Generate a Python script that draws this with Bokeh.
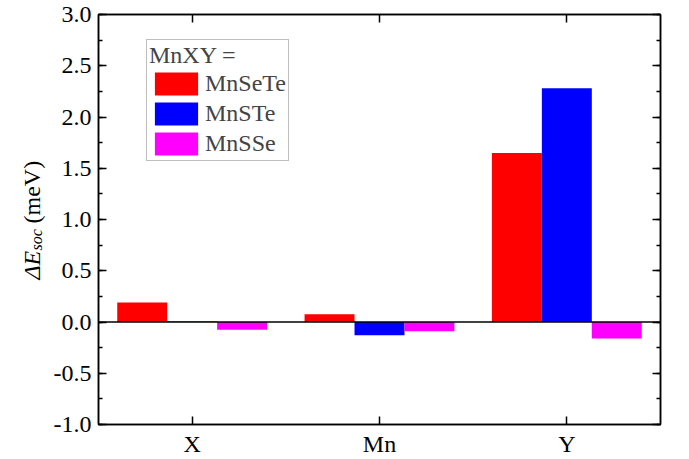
from bokeh.plotting import figure
from bokeh.layouts import row
from bokeh.models import (FactorRange, Range1d, Span, Legend, LegendItem, Label,
                          SingleIntervalTicker, NumeralTickFormatter, LinearAxis,
                          CategoricalAxis, CustomJSTickFormatter, ColumnDataSource)
from bokeh.transform import dodge
from bokeh.embed import file_html
from bokeh.resources import INLINE

# ---- data ----
sites = ["X", "Mn", "Y"]
mnsete = [0.19, 0.075, 1.65]
mnste = [0.005, -0.13, 2.28]
mnsse = [-0.075, -0.09, -0.16]
series_names = ["MnSeTe", "MnSTe", "MnSSe"]
series_colors = ["#FF0000", "#0000FF", "#FF00FF"]
y_ticks_interval = 0.5

FONT = "Liberation Serif"

source = ColumnDataSource(data=dict(site=sites, MnSeTe=mnsete, MnSTe=mnste, MnSSe=mnsse))

LBL_W = 50
fig = figure(width=689 - LBL_W, height=459, x_range=FactorRange(*sites), y_range=Range1d(-1.0, 3.0),
             output_backend="svg", toolbar_location=None,
             min_border_left=98 - LBL_W, min_border_right=29, min_border_top=14, min_border_bottom=33)
fig.xgrid.visible = False
fig.ygrid.visible = False
fig.outline_line_color = "black"
fig.outline_line_width = 1.5
fig.background_fill_color = "white"
fig.border_fill_color = "white"

bw = 0.8 / 3
renderers = []
offsets = [-bw, 0.0, bw]
for name, col, off in zip(series_names, series_colors, offsets):
    r = fig.vbar(x=dodge("site", off, range=fig.x_range), top=name, bottom=0, width=bw,
                 source=source, fill_color=col, line_color=None)
    renderers.append(r)

fig.add_layout(Span(location=0, dimension="width", line_color="black", line_width=1.5))

def style_axis(ax):
    ax.axis_line_width = 1.5
    ax.axis_line_color = "black"
    ax.major_tick_line_color = "black"
    ax.minor_tick_line_color = "black"
    ax.major_tick_line_width = 1.5
    ax.minor_tick_line_width = 1.5
    ax.major_tick_in = 8
    ax.major_tick_out = 0
    ax.minor_tick_in = 4
    ax.minor_tick_out = 0
    ax.major_label_text_font = FONT
    ax.major_label_text_color = "black"

yax = fig.yaxis[0]
yax.ticker = SingleIntervalTicker(interval=y_ticks_interval, num_minor_ticks=2)
yax.formatter = NumeralTickFormatter(format="0.0")
style_axis(yax)
yax.major_label_text_font_size = "24px"
yax.major_label_standoff = 7

xax = fig.xaxis[0]
style_axis(xax)
xax.major_label_text_font_size = "24px"
xax.major_label_standoff = 6

rax = LinearAxis(ticker=SingleIntervalTicker(interval=y_ticks_interval, num_minor_ticks=2),
                 formatter=CustomJSTickFormatter(code="return ''"))
style_axis(rax)
rax.major_label_standoff = 0
fig.add_layout(rax, "right")
tax = CategoricalAxis(formatter=CustomJSTickFormatter(code="return ''"))
style_axis(tax)
tax.major_label_standoff = 0
fig.add_layout(tax, "above")

legend = Legend(items=[LegendItem(label=n, renderers=[r]) for n, r in zip(series_names, renderers)],
                title="MnXY =", location=(48, 263))
legend.title_text_font = FONT
legend.title_text_font_size = "24px"
legend.title_text_font_style = "normal"
legend.title_standoff = 0
legend.label_text_font = FONT
legend.label_text_font_size = "24px"
legend.glyph_width = 54
legend.glyph_height = 29
legend.spacing = 1
legend.padding = 2
legend.label_standoff = 2
legend.border_line_color = "#808080"
legend.border_line_width = 1.5
legend.background_fill_alpha = 1.0
fig.add_layout(legend)

# ---- y-axis title strip (ΔE_soc (meV)) ----
lab = figure(width=LBL_W, height=459, x_range=(0, 1), y_range=(0, 1),
             output_backend="svg", toolbar_location=None,
             x_axis_location=None, y_axis_location=None,
             min_border_left=0, min_border_right=0, min_border_top=0, min_border_bottom=0)
lab.xgrid.visible = False
lab.ygrid.visible = False
lab.outline_line_color = None
lab.border_fill_color = "white"
lab.background_fill_color = "white"

lab_kw = dict(x_units="screen", y_units="screen", angle=90, angle_units="deg",
              text_font=FONT, text_color="black", text_baseline="alphabetic", text_align="left")
lab.add_layout(Label(x=31, y=145, text="ΔE", text_font_style="italic", text_font_size="24px", **lab_kw))
lab.add_layout(Label(x=36, y=174, text="soc", text_font_style="italic", text_font_size="16px", **lab_kw))
lab.add_layout(Label(x=31, y=201, text="(meV)", text_font_size="24px", **lab_kw))

p = row(lab, fig, spacing=0)

open("out.html", "w").write(file_html(p, INLINE))
